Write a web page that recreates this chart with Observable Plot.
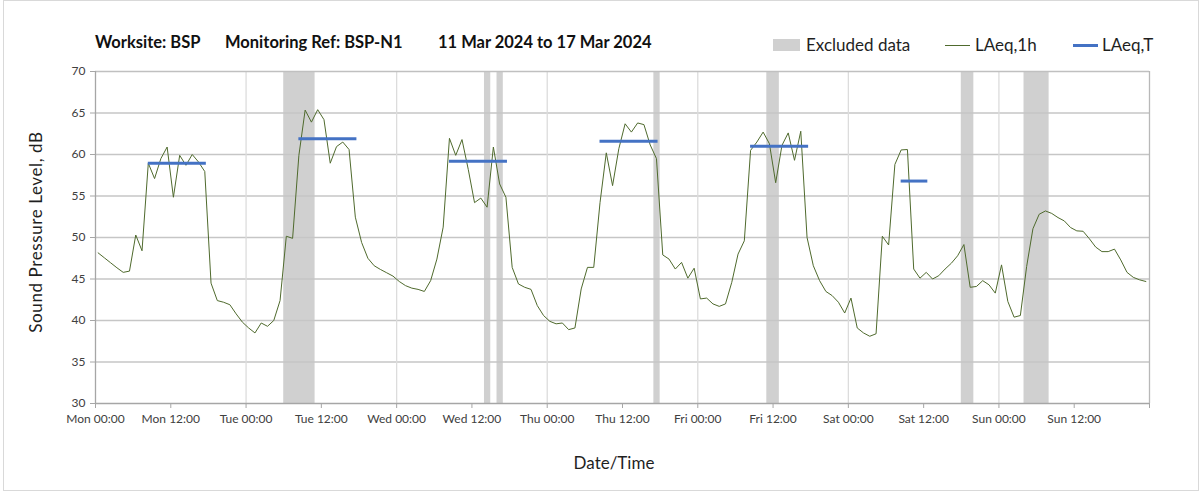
<!DOCTYPE html>
<html>
<head>
<meta charset="utf-8">
<script src="https://cdn.jsdelivr.net/npm/d3@7"></script>
<script src="https://cdn.jsdelivr.net/npm/@observablehq/plot@0.6"></script>
<style>
  html, body { margin: 0; padding: 0; background: #fff; }
  body { width: 1203px; height: 492px; position: relative; overflow: hidden; font-family: Lato, "Open Sans", sans-serif; color: #1a1a1a; }
  .frame { position: absolute; left: 3px; top: 0px; width: 1194px; height: 489px; border: 1px solid #d9d9d9; }
  .t { position: absolute; top: 32px; font-weight: bold; font-size: 16.5px; white-space: nowrap; color: #111; }
  .lg { position: absolute; top: 34px; font-size: 17px; white-space: nowrap; color: #1f1f1f; }
  .sw { position: absolute; }
  #chart { position: absolute; left: 0; top: 60px; }
  .ylab { position: absolute; left: 35px; top: 232px; transform: translate(-50%, -50%) rotate(-90deg); font-size: 17px; letter-spacing: 0.6px; white-space: nowrap; color: #1f1f1f; }
  .xlab { position: absolute; left: 614px; top: 462px; transform: translate(-50%, -50%); font-size: 17px; white-space: nowrap; color: #1f1f1f; }
</style>
</head>
<body>
<div class="frame"></div>
<div class="t" style="left:95px">Worksite: BSP</div>
<div class="t" style="left:225px">Monitoring Ref: BSP-N1</div>
<div class="t" style="left:438px">11 Mar 2024 to 17 Mar 2024</div>

<div class="sw" style="left:773px; top:39px; width:27px; height:12px; background:#d0d0d0"></div>
<div class="lg" style="left:806px">Excluded data</div>
<div class="sw" style="left:945px; top:45px; width:25px; height:1px; background:#4f6a2d"></div>
<div class="lg" style="left:975px">LAeq,1h</div>
<div class="sw" style="left:1073px; top:44px; width:25px; height:3px; background:#4472c4"></div>
<div class="lg" style="left:1102px">LAeq,T</div>

<div class="ylab">Sound Pressure Level, dB</div>
<div class="xlab">Date/Time</div>
<div id="chart"></div>

<script>
// ---- data ----
const weekStart = "2024-03-11T00:00Z";
const weekEnd = "2024-03-18T00:00Z";
const firstReading = "2024-03-11T00:25Z"; // hourly readings from here

const laeq1h = [
  48.15, 47.55, 46.95, 46.35, 45.8, 45.95, 50.3, 48.4, 58.95, 57.1,
  59.5, 60.9, 54.85, 59.9, 58.7, 60.0, 59.1, 57.95, 44.5, 42.4,
  42.2, 41.9, 40.8, 39.8, 39.1, 38.5, 39.7, 39.3, 40.0, 42.4,
  50.15, 49.9, 59.9, 65.35, 63.9, 65.4, 64.2, 58.95, 60.95, 61.5,
  60.6, 52.45, 49.4, 47.5, 46.6, 46.15, 45.75, 45.35, 44.7, 44.2,
  43.9, 43.75, 43.5, 44.8, 47.4, 51.25, 61.95, 59.9, 61.8, 58.2,
  54.2, 54.75, 53.65, 60.9, 56.45, 54.85, 46.4, 44.4, 44.0, 43.75,
  41.8, 40.6, 39.9, 39.6, 39.7, 38.9, 39.1, 43.8, 46.4, 46.4,
  54.2, 60.2, 56.25, 60.7, 63.7, 62.7, 63.8, 63.6, 61.15, 59.5,
  47.9, 47.4, 46.2, 47.0, 45.1, 46.3, 42.6, 42.7, 42.0, 41.7,
  42.0, 44.6, 48.0, 49.6, 60.5, 61.5, 62.7, 61.3, 56.6, 61.1,
  62.6, 59.3, 62.8, 50.0, 46.6, 44.8, 43.5, 43.0, 42.2, 40.9,
  42.7, 39.1, 38.5, 38.1, 38.4, 50.15, 49.1, 58.8, 60.55, 60.6,
  46.2, 45.1, 45.8, 45.0, 45.4, 46.2, 46.9, 47.8, 49.15, 44.0,
  44.1, 44.8, 44.3, 43.3, 46.7, 42.3, 40.4, 40.6, 46.5, 51.05,
  52.8, 53.2, 52.9, 52.4, 52.0, 51.2, 50.8, 50.75, 49.85, 48.85,
  48.3, 48.3, 48.6, 47.3, 45.8, 45.2, 44.9, 44.7
];

const excludedFrom = ["2024-03-12T06:00Z", "2024-03-13T14:00Z", "2024-03-13T16:00Z", "2024-03-14T17:00Z", "2024-03-15T11:00Z", "2024-03-16T18:00Z", "2024-03-17T04:00Z"];
const excludedTo   = ["2024-03-12T11:00Z", "2024-03-13T15:00Z", "2024-03-13T17:00Z", "2024-03-14T18:00Z", "2024-03-15T13:00Z", "2024-03-16T20:00Z", "2024-03-17T08:00Z"];

const laeqTFrom  = ["2024-03-11T08:25Z", "2024-03-12T08:25Z", "2024-03-13T08:25Z", "2024-03-14T08:25Z", "2024-03-15T08:25Z", "2024-03-16T08:25Z"];
const laeqTTo    = ["2024-03-11T17:40Z", "2024-03-12T17:40Z", "2024-03-13T17:40Z", "2024-03-14T17:40Z", "2024-03-15T17:40Z", "2024-03-16T12:40Z"];
const laeqTValue = [58.95, 61.9, 59.2, 61.6, 61.0, 56.8];

const yTicks = [30, 35, 40, 45, 50, 55, 60, 65, 70];
const xTickCount = 15; // every 12 h, Mon 00:00 .. next Mon 00:00
const dayStarts = ["2024-03-12T00:00Z", "2024-03-13T00:00Z", "2024-03-14T00:00Z", "2024-03-15T00:00Z", "2024-03-16T00:00Z", "2024-03-17T00:00Z"];

// ---- build tables ----
const t0 = new Date(firstReading).getTime();
const readings = laeq1h.map((v, i) => ({time: new Date(t0 + i * 3600e3), value: v}));
const excluded = excludedFrom.map((f, i) => ({from: new Date(f), to: new Date(excludedTo[i])}));
const laeqT = laeqTFrom.map((f, i) => ({from: new Date(f), to: new Date(laeqTTo[i]), value: laeqTValue[i]}));
const ws = new Date(weekStart), we = new Date(weekEnd);
const xTicks = d3.range(xTickCount).map(k => new Date(ws.getTime() + k * 12 * 3600e3));
const days = dayStarts.map(d => new Date(d));
const fmt = d3.utcFormat("%a %H:%M");

const chart = Plot.plot({
  width: 1203,
  height: 432,
  marginLeft: 95,
  marginRight: 54,
  marginTop: 11,
  marginBottom: 89,
  style: {fontFamily: "Lato, 'Open Sans', sans-serif", fontSize: "12px", color: "#404040", background: "transparent"},
  x: {type: "utc", domain: [ws, we]},
  y: {domain: [30, 70]},
  marks: [
    Plot.rect(excluded, {x1: "from", x2: "to", y1: 30, y2: 70, fill: "#d0d0d0"}),
    Plot.gridY(yTicks.slice(1, -1), {stroke: "#c6c6c6", strokeOpacity: 1, strokeWidth: 1.3}),
    Plot.gridX(days, {stroke: "#dcdcdc", strokeOpacity: 1, strokeWidth: 1.3}),
    Plot.ruleY([70], {stroke: "#c0c0c0", strokeWidth: 1.3}),
    Plot.ruleX([we], {stroke: "#b8b8b8", strokeWidth: 1.3}),
    Plot.ruleX([ws], {stroke: "#a6a6a6", strokeWidth: 1.3}),
    Plot.ruleY([30], {stroke: "#a6a6a6", strokeWidth: 1.3}),
    Plot.axisY(yTicks, {tickSize: 5, tickPadding: 5, stroke: "#a6a6a6", fill: "#404040", label: null}),
    Plot.axisX(xTicks.concat([we]), {tickSize: 5, tickPadding: 6, stroke: "#a6a6a6", fill: "#404040", label: null,
      tickFormat: d => d.getTime() === we.getTime() ? "" : fmt(d)}),
    Plot.line(readings, {x: "time", y: "value", stroke: "#4f6a2d", strokeWidth: 1}),
    Plot.ruleY(laeqT, {y: "value", x1: "from", x2: "to", stroke: "#4472c4", strokeWidth: 3})
  ]
});
document.getElementById("chart").appendChild(chart);
</script>
</body>
</html>
